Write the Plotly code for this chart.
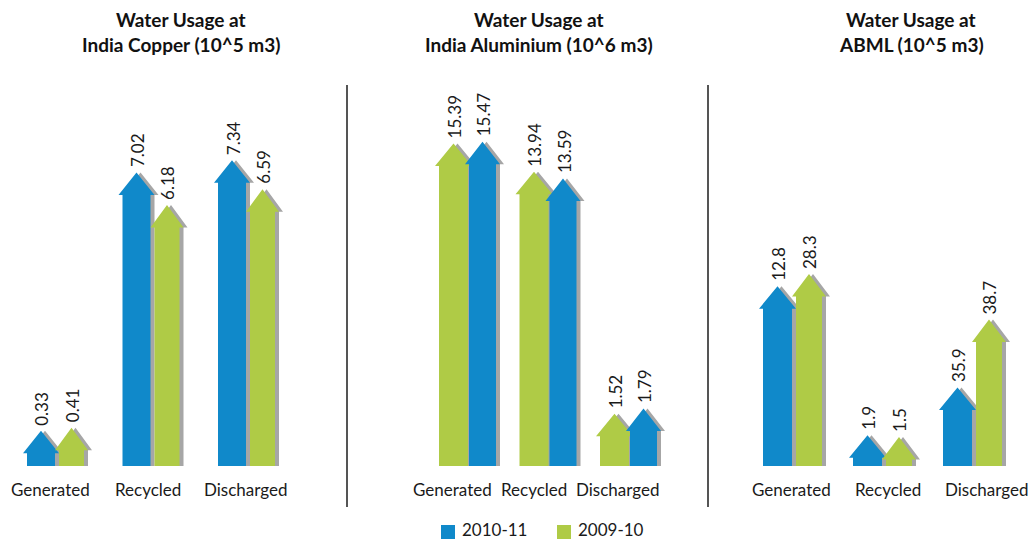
import plotly.graph_objects as go

# ---------------- data ----------------
categories = ["Generated", "Recycled", "Discharged"]
series_names = ["2010-11", "2009-10"]

copper_2010 = [0.33, 7.02, 7.34]
copper_2009 = [0.41, 6.18, 6.59]

alu_2010 = [15.47, 13.59, 1.79]
alu_2009 = [15.39, 13.94, 1.52]

# ABML: arrow lengths as drawn, and the labels as printed in the source
# (the source prints the Generated / Discharged labels swapped)
abml_2010 = [35.9, 1.9, 12.8]
abml_2009 = [38.7, 1.5, 28.3]
abml_2010_labels = ["12.8", "1.9", "35.9"]
abml_2009_labels = ["28.3", "1.5", "38.7"]

titles = [
    ("Water Usage at", "India Copper (10^5 m3)"),
    ("Water Usage at", "India Aluminium (10^6 m3)"),
    ("Water Usage at", "ABML (10^5 m3)"),
]

# ---------------- style / layout ----------------
W, H = 1032, 542
M_T, M_B = 60, 76
PLOT_H = H - M_T - M_B
COLORS = {"2010-11": "#1089CA", "2009-10": "#AFCB46"}
SHADOW = "#A6A6A6"
FONT = "Lato, 'Open Sans', sans-serif"
HEAD_PX = 22.5
OVERHANG = 4
SHADOW_DX = 4

panels = [
    dict(series=[("2010-11", copper_2010, None), ("2009-10", copper_2009, None)],
         px_per_unit=38.6, start=27, spacing=95.5, widths=(28, 25), second_off=32,
         label_x=[50, 148, 245], title_x=181),
    dict(series=[("2009-10", alu_2009, None), ("2010-11", alu_2010, None)],
         px_per_unit=19.5, start=439, spacing=80.5, widths=(29, 27), second_off=30,
         label_x=[452, 534, 617], title_x=539),
    dict(series=[("2010-11", abml_2010, abml_2010_labels), ("2009-10", abml_2009, abml_2009_labels)],
         px_per_unit=4.38, start=763, spacing=90, widths=(29, 26), second_off=33,
         label_x=[791, 888, 986], title_x=911),
]

# legend placement (pixels)
LEGEND_ITEMS_X = [441, 557]
LEGEND_SQ = 14

fig = go.Figure()
annotations = []
shapes = []


def arrow_xy(left, width, v, head):
    xs = [left, left, left - OVERHANG, left + width / 2, left + width + OVERHANG,
          left + width, left + width, left]
    ys = [0, v, v, v + head, v, v, 0, 0]
    return xs, ys


def paper_y(ypx):
    return ((H - M_B) - ypx) / PLOT_H


for p_i, p in enumerate(panels):
    yref = "y" if p_i == 0 else f"y{p_i + 1}"
    head = HEAD_PX / p["px_per_unit"]
    for k, (name, vals, labels) in enumerate(p["series"]):
        width = p["widths"][k]
        for i, v in enumerate(vals):
            left = p["start"] + i * p["spacing"] + (p["second_off"] if k == 1 else 0)
            xs, ys = arrow_xy(left, width, v, head)
            fig.add_trace(go.Scatter(
                x=[x + SHADOW_DX for x in xs], y=ys, yaxis=yref, mode="lines",
                fill="toself", fillcolor=SHADOW, line=dict(width=0),
                hoverinfo="skip", showlegend=False))
            fig.add_trace(go.Scatter(
                x=xs, y=ys, yaxis=yref, mode="lines", fill="toself",
                fillcolor=COLORS[name], line=dict(width=0), name=name,
                hoverinfo="skip", showlegend=False))
            txt = labels[i] if labels else f"{v:g}"
            annotations.append(dict(
                x=left + width / 2 + 1, y=v + head, xref="x", yref=yref, text=txt,
                textangle=-90, showarrow=False, xanchor="center", yanchor="bottom",
                yshift=3, font=dict(family=FONT, size=17, color="#1a1a1a")))
    for cx, cat in zip(p["label_x"], categories):
        annotations.append(dict(
            x=cx, y=paper_y(490), xref="x", yref="paper", text=cat,
            showarrow=False, xanchor="center", yanchor="middle",
            font=dict(family=FONT, size=17, color="#1a1a1a")))
    for line, ypx in zip(titles[p_i], (20, 44)):
        annotations.append(dict(
            x=p["title_x"], y=paper_y(ypx), xref="x", yref="paper",
            text=f"<b>{line}</b>", showarrow=False, xanchor="center", yanchor="middle",
            font=dict(family=FONT, size=19, color="#111111")))

# legend (square swatch + text)
for lx, name in zip(LEGEND_ITEMS_X, series_names):
    shapes.append(dict(type="rect", xref="x", yref="paper",
                       x0=lx, x1=lx + LEGEND_SQ, y0=paper_y(539), y1=paper_y(539 - LEGEND_SQ),
                       fillcolor=COLORS[name], line=dict(width=0)))
    annotations.append(dict(
        x=lx + LEGEND_SQ + 5, y=paper_y(542), xref="x", yref="paper", text=name,
        showarrow=False, xanchor="left", yanchor="bottom",
        font=dict(family=FONT, size=17, color="#1a1a1a")))

for xd in (347, 708):
    shapes.append(dict(type="line", xref="x", yref="paper", x0=xd, x1=xd,
                       y0=paper_y(507), y1=paper_y(85),
                       line=dict(color="#555555", width=2)))

layout_axes = {}
for p_i, p in enumerate(panels):
    key = "yaxis" if p_i == 0 else f"yaxis{p_i + 1}"
    ax = dict(range=[0, PLOT_H / p["px_per_unit"]], visible=False, fixedrange=True)
    if p_i > 0:
        ax["overlaying"] = "y"
    layout_axes[key] = ax

fig.update_layout(
    width=W, height=H,
    margin=dict(l=0, r=0, t=M_T, b=M_B, autoexpand=False),
    paper_bgcolor="white", plot_bgcolor="white",
    xaxis=dict(range=[0, W], visible=False, fixedrange=True),
    annotations=annotations,
    shapes=shapes,
    showlegend=False,
    **layout_axes,
)

fig.write_html("out.html")
